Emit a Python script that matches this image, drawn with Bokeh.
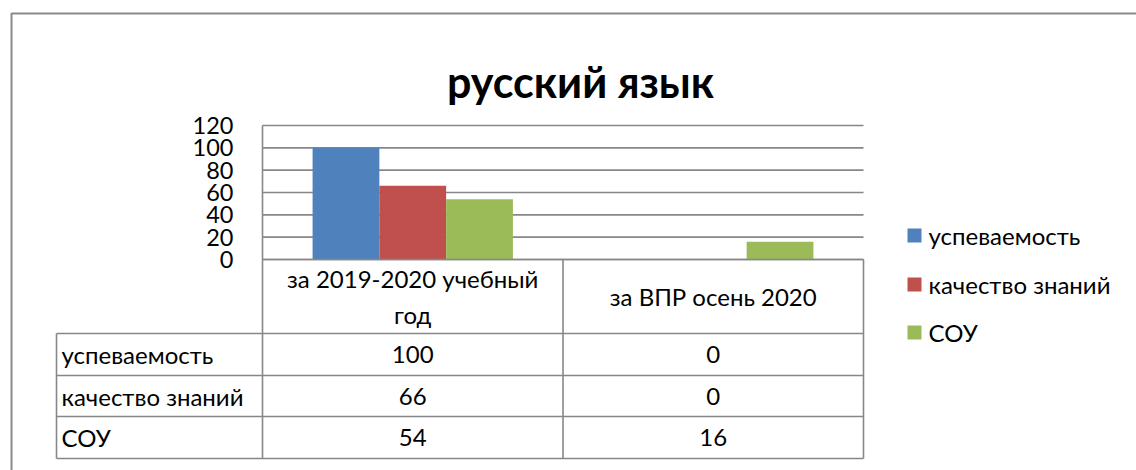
from bokeh.plotting import figure
from bokeh.models import Range1d
from bokeh.core.properties import value
from bokeh.embed import file_html
from bokeh.resources import INLINE

# ---------------- data ----------------
title_text = "русский язык"
categories = ["за 2019-2020 учебный год", "за ВПР осень 2020"]
category_lines = [["за 2019-2020 учебный", "год"], ["за ВПР осень 2020"]]
series_names = ["успеваемость", "качество знаний", "СОУ"]
uspevaemost = [100, 0]
kachestvo = [66, 0]
sou = [54, 16]
y_ticks = [0, 20, 40, 60, 80, 100, 120]
series_values = [uspevaemost, kachestvo, sou]

# ---------------- layout / style ----------------
W, H = 1136, 470
PL, PR, PT, PB = 262, 863, 125, 259      # plot area in px
TL = 56                                  # table left edge
ROWS = [259, 333, 375, 416, 458]         # table horizontal lines
YMAX = 120
colors = ["#4F81BD", "#C0504D", "#9BBB59"]
FONT = "Lato"
GRID = "#878787"
TXT = "#000000"
FS = "24px"

p = figure(width=W, height=H, output_backend="svg", toolbar_location=None,
           x_range=Range1d(0, W), y_range=Range1d(H, 0),
           x_axis_type=None, y_axis_type=None, min_border=0)
p.outline_line_color = None
p.background_fill_color = "white"
p.border_fill_color = "white"

ncat = len(categories)
ppv = (PB - PT) / YMAX
cw = (PR - PL) / ncat
p.extra_y_ranges = {"val": Range1d(start=-(H - PB) / ppv, end=PB / ppv)}
p.extra_x_ranges = {"cat": Range1d(start=-PL / cw, end=(W - PL) / cw)}

# outer chart border
p.quad(left=11, right=W + 20, top=13, bottom=H + 20, fill_color=None,
       line_color="#8a8a8a", line_width=2)

# gridlines from ticks
p.segment(x0=[PL] * len(y_ticks), x1=[PR] * len(y_ticks), y0=y_ticks, y1=y_ticks,
          y_range_name="val", line_color=GRID, line_width=1.6)
# value axis line
p.segment(x0=[PL], x1=[PL], y0=[0], y1=[YMAX], y_range_name="val",
          line_color=GRID, line_width=1.6)
p.text(x=[233] * len(y_ticks), y=y_ticks, text=[str(t) for t in y_ticks],
       y_range_name="val", text_align="right", text_baseline="middle",
       text_font=value(FONT), text_font_size="23.5px", text_color=TXT)

# bars
bw = (2 / 3) / len(series_names)
for j, vals in enumerate(series_values):
    xs = [i + 0.5 + (j - 1) * bw for i in range(ncat)]
    p.vbar(x=xs, top=vals, bottom=0, width=bw, fill_color=colors[j],
           line_color=None, x_range_name="cat", y_range_name="val")

# data table grid
col_edges = [PL + k * cw for k in range(ncat + 1)]
p.segment(x0=[PL], x1=[PR], y0=[ROWS[0]], y1=[ROWS[0]], line_color=GRID, line_width=1.6)
p.segment(x0=[TL] * (len(ROWS) - 1), x1=[PR] * (len(ROWS) - 1), y0=ROWS[1:], y1=ROWS[1:],
          line_color=GRID, line_width=1.6)
p.segment(x0=[TL], x1=[TL], y0=[ROWS[1]], y1=[ROWS[-1]], line_color=GRID, line_width=1.6)
p.segment(x0=col_edges, x1=col_edges, y0=[ROWS[0]] * len(col_edges), y1=[ROWS[-1]] * len(col_edges),
          line_color=GRID, line_width=1.6)

# header texts
hx, hy, ht = [], [], []
for i, lines in enumerate(category_lines):
    cx = PL + (i + 0.5) * cw
    cy = (ROWS[0] + ROWS[1]) / 2
    n = len(lines)
    for k, ln in enumerate(lines):
        hx.append(cx)
        hy.append(cy + (k - (n - 1) / 2) * 36)
        ht.append(ln)
p.text(x=hx, y=hy, text=ht, text_align="center", text_baseline="middle",
       text_font=value(FONT), text_font_size=FS, text_color=TXT)

# row labels and values
rx, ry, rt = [], [], []
vx, vy, vt = [], [], []
for r, (name, vals) in enumerate(zip(series_names, series_values)):
    cy = (ROWS[r + 1] + ROWS[r + 2]) / 2
    rx.append(TL + 5); ry.append(cy); rt.append(name)
    for i, v in enumerate(vals):
        vx.append(PL + (i + 0.5) * cw); vy.append(cy); vt.append(str(v))
p.text(x=rx, y=ry, text=rt, text_align="left", text_baseline="middle",
       text_font=value(FONT), text_font_size=FS, text_color=TXT)
p.text(x=vx, y=vy, text=vt, text_align="center", text_baseline="middle",
       text_font=value(FONT), text_font_size=FS, text_color=TXT)

# legend
LY = [235, 284, 332]
p.rect(x=[914] * 3, y=LY, width=14, height=14, fill_color=colors, line_color=None)
p.text(x=[928] * 3, y=LY, text=series_names, text_align="left", text_baseline="middle",
       text_font=value(FONT), text_font_size=FS, text_color=TXT)

# title
p.text(x=[580], y=[81], text=[title_text], text_align="center", text_baseline="alphabetic",
       text_font=value(FONT), text_font_size="43px", text_font_style="bold", text_color=TXT)

open("out.html", "w").write(file_html(p, INLINE))
